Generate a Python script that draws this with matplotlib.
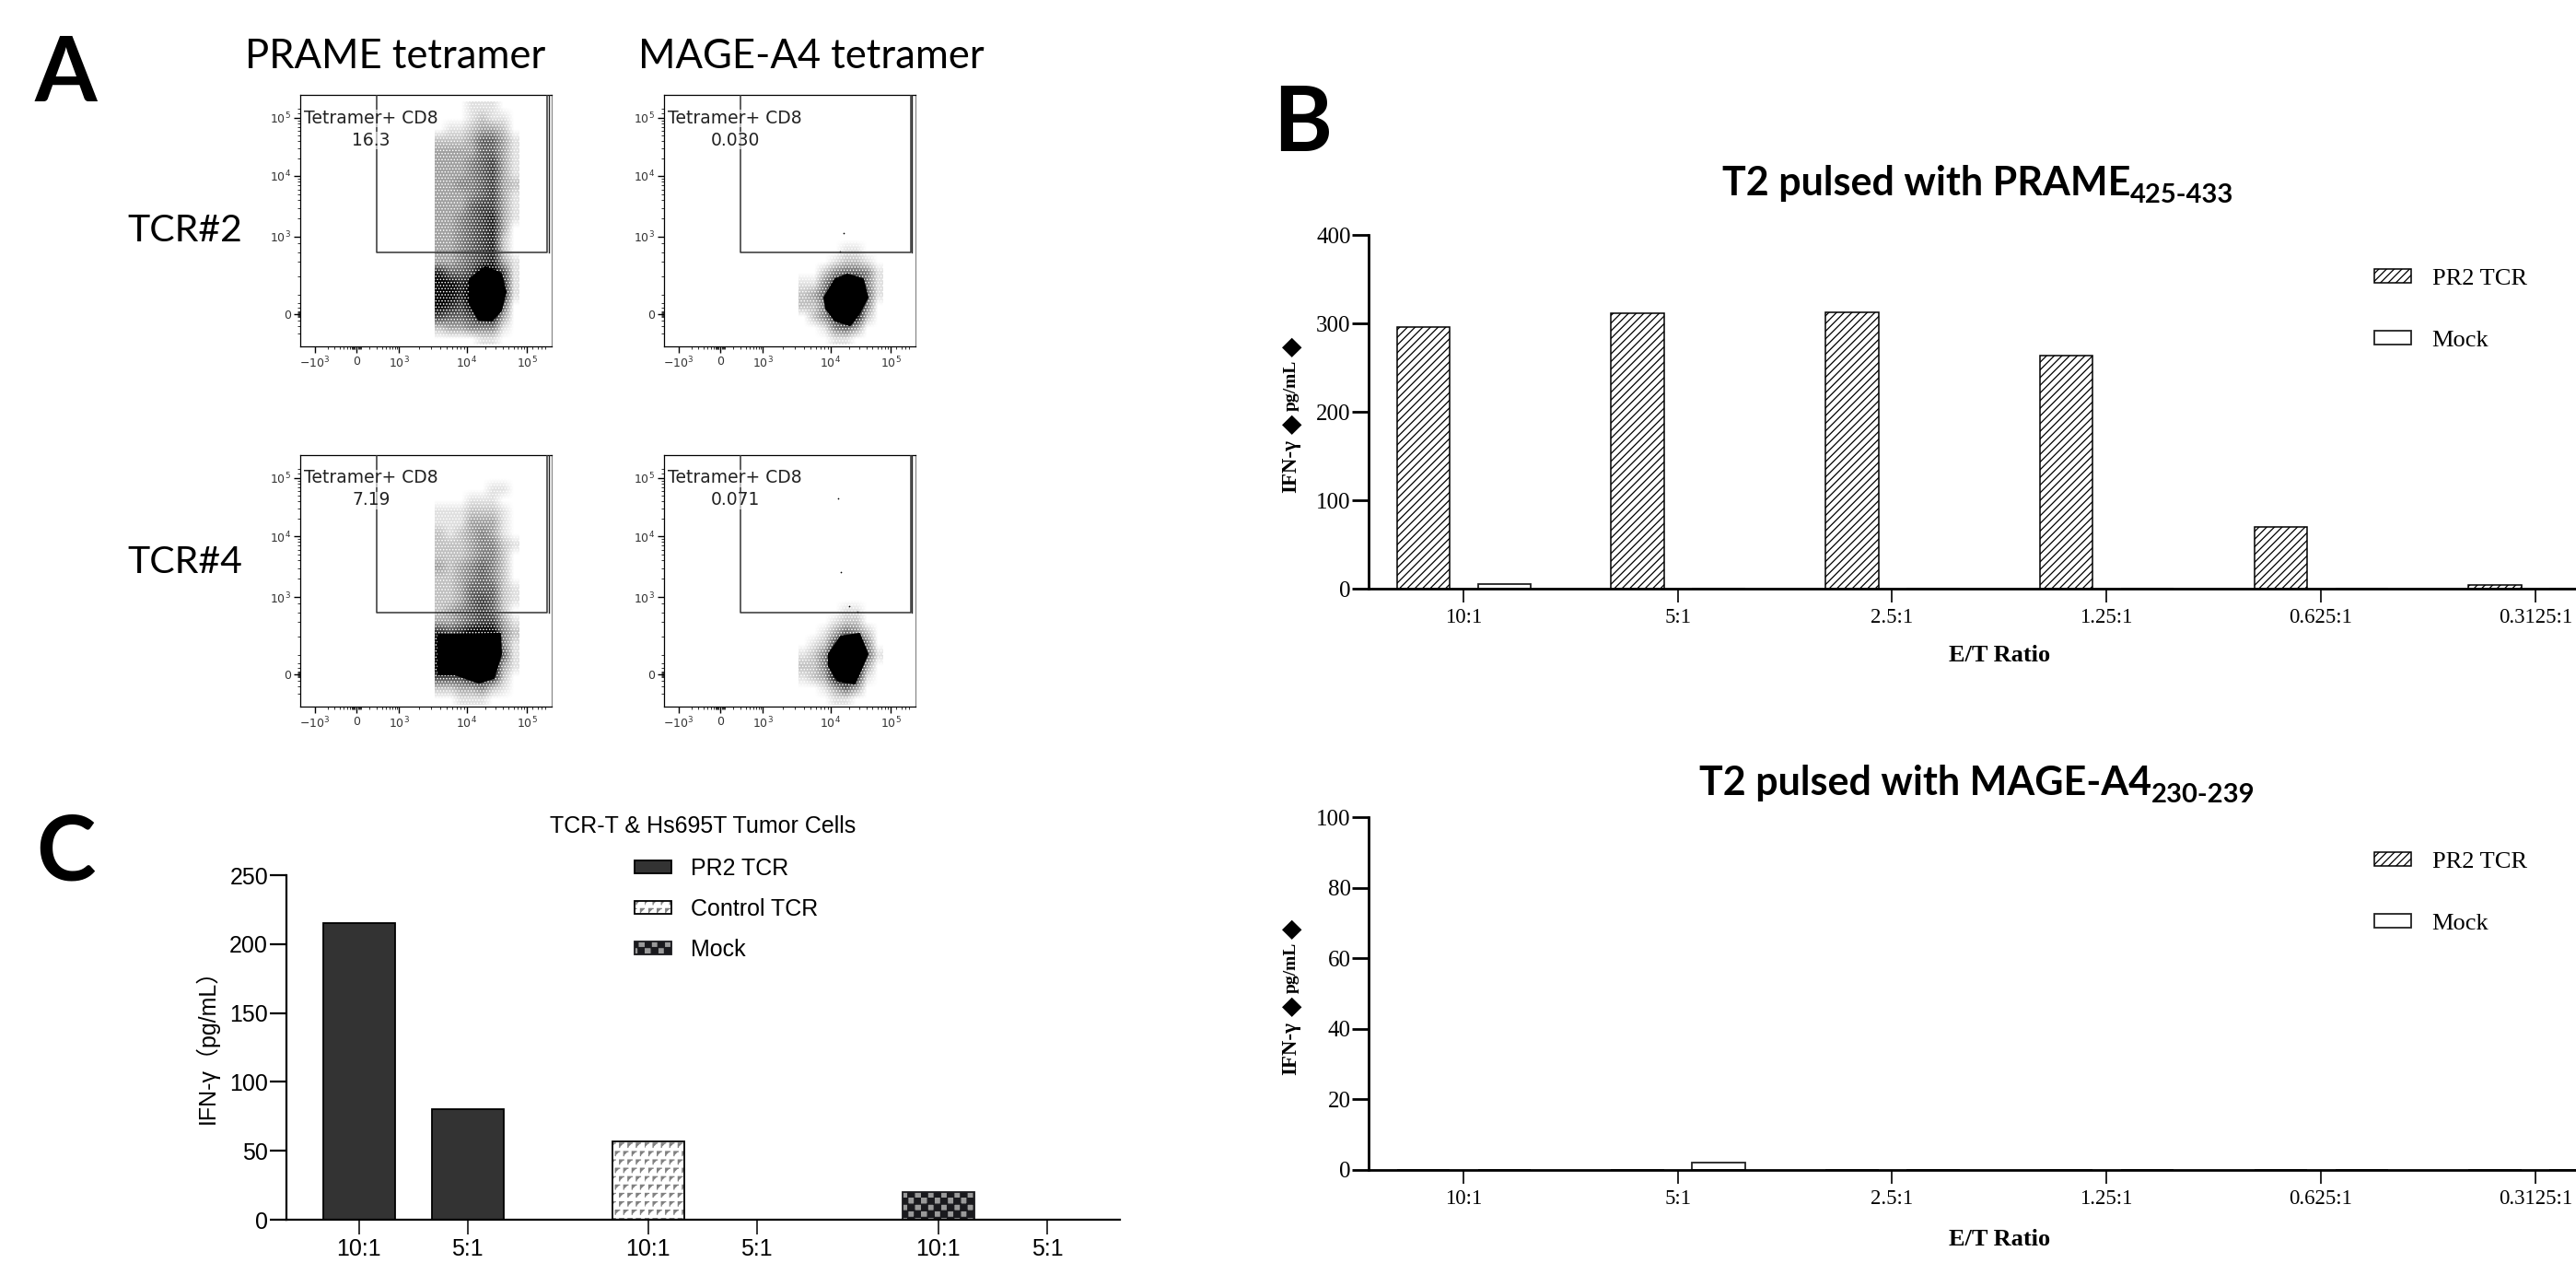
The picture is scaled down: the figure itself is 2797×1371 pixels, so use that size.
import numpy as np
import matplotlib
matplotlib.use("Agg")
import matplotlib.pyplot as plt
from matplotlib import hatch as mhatch
from matplotlib.legend_handler import HandlerTuple
from matplotlib.patches import Rectangle
from matplotlib.path import Path

W, H = 2797, 1371

# --- panel B / D values
ratios = ["10:1", "5:1", "2.5:1", "1.25:1", "0.625:1", "0.3125:1"]
prame_pr2 = [296, 311, 312, 264, 70, 4]
prame_mock = [5, 0, 0, 0, 0, 0]
mage_pr2 = [0, 0, 0, 0, 0, 0]
mage_mock = [0, 2, 0, 0, 0, 0]

# --- panel C values
c_labels = ["10:1", "5:1", "10:1", "5:1", "10:1", "5:1"]
c_pr2 = [215.5, 80]
c_control = [57, 0]
c_mock = [20, 0]

# --- panel A, darkness of each cloud (0-9), cells of 12 channels,
# top row first, columns from channel 144 to 240
empty = "00000000"
p1_density = [
    "00011100", "00012110", "01123320", "22235531", "33335531", "33345631", "33345631",
    "33445632", "33345631", "33356631", "33456731", "33456730", "33456720", "33456720",
    "33456731", "75569961", "98789971", "98799971", "87689950", "65568830", "23344410",
    "00001100"]
p3_density = [
    empty, empty, "00000110", "00011100", "11122210", "11133310", "21234310", "22234421",
    "22234420", "32345420", "22345420", "22355521", "22356521", "23456520", "33456631",
    "76799942", "99999941", "99999951", "99999931", "66688720", "22334210", "00111000"]
p2_density = [
    empty, empty, empty, empty, empty, empty, empty, empty, empty, empty, empty, empty, empty,
    "00001100", "00012210", "00245541", "11479941", "23599951", "22499940", "02479820",
    "00145300", "00011000"]
p4_density = [
    empty, empty, empty, empty, empty, empty, empty, empty, empty, empty, empty, empty, empty,
    "00001100", "00012200", "00135420", "01269940", "12499951", "22499930", "12389710",
    "00135300", "00011000"]

# solid black centres, in display channels (0-273)
p1_core = [(184,73),(201,86),(218,79),(223,59),(218,39),(208,28),(194,29),(184,46)]
p2_core = [(174,53),(186,73),(199,78),(216,73),(221,53),(212,36),(202,23),(186,28),(176,41)]
p3_core = [(150,78),(188,78),(217,79),(218,57),(210,31),(194,26),(168,35),(150,35)]
p4_core = [(179,57),(192,76),(212,79),(221,57),(207,25),(189,28),(179,44)]
p2_out = [(195,123),(191,103)]
p4_out = [(189,226),(192,146),(201,109),(210,103)]

flow_x_ticks = [16, 61, 107, 181, 246]
flow_x_labels = ["$-10^{3}$", "0", "$10^{3}$", "$10^{4}$", "$10^{5}$"]
flow_y_ticks = [35, 119, 185, 248]
flow_y_labels = ["0", "$10^{3}$", "$10^{4}$", "$10^{5}$"]


# two extra hatches for the GraphPad style fills
class CheckerHatch(mhatch.HatchPatternBase):
    filled = True

    def __init__(self, hatch, density):
        self.n = 14 if "c" in hatch else 0
        self.num_vertices = self.n * self.n * 5 // 2 * 1

    def set_vertices_and_codes(self, vertices, codes):
        d = 1.0 / self.n
        k = 0
        for i in range(self.n):
            for j in range(self.n):
                if (i + j) % 2 == 0:
                    x, y = i * d, j * d
                    vertices[k:k + 5] = [(x, y), (x + d, y), (x + d, y + d), (x, y + d), (x, y)]
                    codes[k:k + 5] = [Path.MOVETO, Path.LINETO, Path.LINETO, Path.LINETO, Path.CLOSEPOLY]
                    k += 5


class StepHatch(mhatch.HatchPatternBase):
    filled = False

    def __init__(self, hatch, density):
        self.n = 11 if "s" in hatch else 0
        self.num_vertices = self.n * self.n * 3

    def set_vertices_and_codes(self, vertices, codes):
        d = 1.0 / self.n
        k = 0
        for i in range(self.n):
            for j in range(self.n):
                x = (i + 0.5 * (j % 2)) * d
                y = j * d
                vertices[k:k + 3] = [(x, y), (x, y + 0.5 * d), (x + 0.5 * d, y + 0.5 * d)]
                codes[k:k + 3] = [Path.MOVETO, Path.LINETO, Path.LINETO]
                k += 3


mhatch._hatch_types.append(CheckerHatch)
mhatch._hatch_types.append(StepHatch)

plt.rcParams["hatch.linewidth"] = 0.9
fig = plt.figure(figsize=(W / 100, H / 100), dpi=100, facecolor="white")


def axes_px(left, top, right, bottom):
    return fig.add_axes([left / W, 1 - bottom / H, (right - left) / W, (bottom - top) / H])


def label_px(x, y, s, **kw):
    kw.setdefault("ha", "center")
    kw.setdefault("va", "center")
    return fig.text(x / W, 1 - y / H, s, **kw)


# panel letters and headers
for s, x, y in [("A", 71, 81), ("B", 1414, 136), ("C", 71, 927)]:
    label_px(x, y, s, family="Lato", weight="bold", fontsize=70)
label_px(429, 62, "PRAME tetramer", family="Lato", fontsize=31.4)
label_px(881, 62, "MAGE-A4 tetramer", family="Lato", fontsize=31.4)
label_px(201, 251, "TCR#2", family="Lato", fontsize=29.5)
label_px(201, 610, "TCR#4", family="Lato", fontsize=29.5)


def minor_positions(ticks):
    out = []
    for lo, hi in zip(ticks[:-1], ticks[1:]):
        out += [lo + (hi - lo) * np.log10(k) for k in range(2, 10)]
    return out


def flow_panel(left, top, value, density, core, outliers=()):
    ax = axes_px(left, top, left + 273, top + 273)
    grid = np.array([[int(c) for c in row] for row in density])
    ax.imshow(grid, cmap="gray_r", vmin=0, vmax=8, extent=(146, 238, 2, 266), aspect="auto",
              interpolation="bilinear", zorder=1)
    # white speckle breaks the grey up into dots
    speck = Rectangle((144, 0), 98, 268, facecolor="none", edgecolor="white", lw=0, hatch=".....", zorder=2)
    speck.set_hatch_linewidth(0.7)
    ax.add_patch(speck)
    xs, ys = zip(*core)
    ax.fill(xs, ys, facecolor="black", edgecolor="black", lw=1.5, joinstyle="round", zorder=4)
    if outliers:
        ox, oy = zip(*outliers)
        ax.scatter(ox, oy, s=1.5, color="black", lw=0, zorder=3)
    ax.set_xlim(0, 273)
    ax.set_ylim(0, 273)
    # gate
    ax.plot([83, 83, 268, 268], [273, 102, 102, 273], color="#333333", lw=1.1, zorder=5)
    ax.plot([269.5, 269.5], [102, 273], color="#222222", lw=1.0, zorder=5)
    ax.text(77, 248, "Tetramer+ CD8", ha="center", va="center", fontsize=13.5, color="#222222", zorder=6,
            bbox=dict(fc="white", ec="none", pad=0, alpha=0.6))
    ax.text(77, 224, value, ha="center", va="center", fontsize=13.5, color="#222222", zorder=6,
            bbox=dict(fc="white", ec="none", pad=0, alpha=0.6))
    ax.set_xticks(flow_x_ticks, flow_x_labels, fontsize=9, color="#333333")
    ax.set_yticks(flow_y_ticks, flow_y_labels, fontsize=9, color="#333333")
    ax.set_xticks(minor_positions([16, 61, 107, 181, 246]) + [252, 258, 262, 266, 56, 57, 58, 59, 63, 64, 65, 66], minor=True)
    ax.set_yticks(minor_positions([119, 185, 248]) + [14, 22, 28, 32, 33, 34, 36, 37, 38, 42, 47, 56, 76, 92, 102, 112, 253, 258], minor=True)
    ax.tick_params(axis="both", which="major", length=5, width=1.0, pad=2, color="black")
    ax.tick_params(axis="both", which="minor", length=2.5, width=0.7, color="#333333")
    for s in ["left", "bottom", "top"]:
        ax.spines[s].set_linewidth(0.9)
    ax.spines["right"].set_linewidth(0.9)
    ax.spines["right"].set_color("#888888")
    return ax


flow_panel(326, 103, "16.3", p1_density, p1_core)
flow_panel(721, 103, "0.030", p2_density, p2_core, p2_out)
flow_panel(326, 494, "7.19", p3_density, p3_core)
flow_panel(721, 494, "0.071", p4_density, p4_core, p4_out)


def tcell_panel(top, bottom, ymax, ystep, title, sub, title_y, title_right, pr2, mock, ratio_y, legend_y):
    ax = axes_px(1486, top, W, bottom)
    x = np.arange(len(ratios))
    b1 = ax.bar(x - 0.187, pr2, 0.247, facecolor="white", edgecolor="black", lw=1.1, hatch="////", label="PR2 TCR")
    b2 = ax.bar(x + 0.191, mock, 0.247, facecolor="white", edgecolor="#222222", lw=1.3, label="Mock")
    ax.set_xlim(-0.442, 5.19)
    ax.set_ylim(0, ymax)
    ax.set_yticks(np.arange(0, ymax + 1, ystep))
    ax.set_xticks(x, ratios, family="Liberation Serif", fontsize=16.5)
    for t in ax.get_yticklabels():
        t.set_family("Liberation Serif")
        t.set_fontsize(18)
    ax.tick_params(axis="y", length=13, width=2, pad=1)
    ax.tick_params(axis="x", length=11, width=1.2, pad=4)
    ax.spines[["top", "right"]].set_visible(False)
    ax.spines[["left", "bottom"]].set_linewidth(2)
    ax.legend([b1[0], b2[0]], ["PR2 TCR", "Mock"], loc="upper left",
              bbox_to_anchor=(2578 / W, 1 - (legend_y - 16) / H), bbox_transform=fig.transFigure,
              frameon=False, prop={"family": "Liberation Serif", "size": 19}, handlelength=1.5,
              handleheight=0.5, handletextpad=0.87, labelspacing=1.7, borderpad=0, borderaxespad=0)
    t = label_px(title_right, title_y, title, family="Lato", weight="bold", fontsize=31, ha="right")
    ax.annotate(sub, xy=(1, 0), xycoords=t, xytext=(0, -4), textcoords="offset points",
                family="Lato", weight="bold", fontsize=21, ha="left", va="bottom")
    label_px(2171, ratio_y, "E/T Ratio", family="Liberation Serif", weight="bold", fontsize=19)
    # y label: the original lost its brackets to big black diamonds
    serif = dict(family="Liberation Serif", weight="bold", rotation=90)
    label_px(1402, top + 280, "IFN-\u03b3", va="bottom", fontsize=16.5, **serif)
    label_px(1402, top + 163, "pg/mL", fontsize=14, **serif)
    for off in [205, 121]:
        label_px(1402, top + off, "\u25c6", family="DejaVu Sans", fontsize=20, rotation=90)
    return ax


tcell_panel(255, 639, 400, 100, "T2 pulsed with PRAME", "425-433", 199, 2313, prame_pr2, prame_mock, 712, 308)
tcell_panel(887, 1270, 100, 20, "T2 pulsed with MAGE-A4", "230-239", 850, 2336, mage_pr2, mage_mock, 1345, 941)

# panel C
ax = axes_px(310.5, 950, 1216, 1324)
grp = [0, 1, 2.66, 3.66, 5.33, 6.33]
bar_w = 77.7 / 118
b1 = ax.bar(grp[0:2], c_pr2, bar_w, facecolor="#333333", edgecolor="black", lw=1.3)
b2 = ax.bar(grp[2:4], c_control, bar_w, facecolor="white", edgecolor="#808080", lw=0, hatch="s")
b2_edge = ax.bar(grp[2:4], c_control, bar_w, facecolor="none", edgecolor="black", lw=1.3)
b3 = ax.bar(grp[4:6], c_mock, bar_w, facecolor="#9a9a9a", edgecolor="#1a1a1e", lw=1.3, hatch="c")
ax.set_xlim(-0.671, 7.0)
ax.set_ylim(0, 250)
ax.set_yticks(range(0, 251, 50))
ax.set_xticks(grp, c_labels)
for t in ax.get_xticklabels() + ax.get_yticklabels():
    t.set_family("Liberation Sans")
    t.set_fontsize(18)
ax.tick_params(axis="y", length=13, width=1.6, pad=1)
ax.tick_params(axis="x", length=11.5, width=1.1, pad=3)
ax.spines[["top", "right"]].set_visible(False)
ax.spines[["left", "bottom"]].set_linewidth(1.6)
ax.legend([b1[0], (b2[0], b2_edge[0]), b3[0]], ["PR2 TCR", "Control TCR", "Mock"], loc="upper left",
          bbox_to_anchor=(689 / W, 1 - 931 / H), bbox_transform=fig.transFigure, frameon=False,
          prop={"family": "Liberation Sans", "size": 18}, handlelength=1.58, handleheight=0.52,
          handletextpad=0.88, labelspacing=0.8, borderpad=0, borderaxespad=0,
          handler_map={tuple: HandlerTuple(ndivide=1, pad=0)})
label_px(763, 897, "TCR-T & Hs695T Tumor Cells", family="Liberation Sans", fontsize=18)
label_px(225, 1130, "IFN-\u03b3\uff08pg/mL\uff09", rotation=90,
         family=["Liberation Sans", "Noto Sans CJK SC"], fontsize=18)

fig.savefig("out.png", dpi=100)
